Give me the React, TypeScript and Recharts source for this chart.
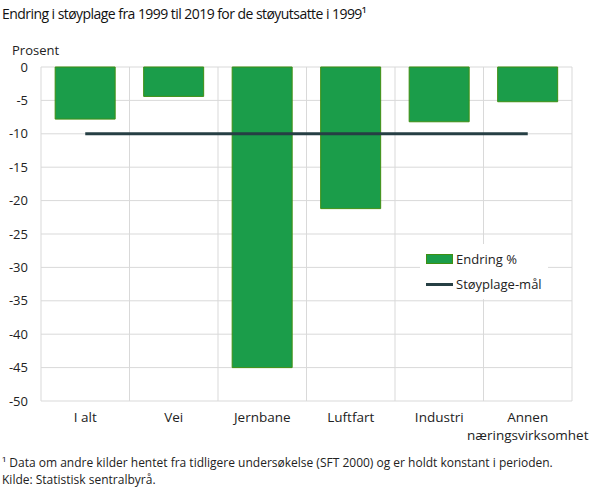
import {
  ComposedChart,
  Bar,
  Line,
  XAxis,
  YAxis,
  CartesianGrid,
  Legend,
} from 'recharts';

const FONT = '"Open Sans", sans-serif';
const TEXT = '#222222';
const GREEN = '#1b9d4a';
const GREEN_EDGE = '#3f8f12';
const LINE = '#263f44';

const categories = ['I alt', 'Vei', 'Jernbane', 'Luftfart', 'Industri', 'Annen\nnæringsvirksomhet'];
const endring = [-7.8, -4.4, -45, -21.2, -8.2, -5.2];
const maal = [-10, -10, -10, -10, -10, -10];
const yTicks = [0, -5, -10, -15, -20, -25, -30, -35, -40, -45, -50];

const data = categories.map((name, i) => ({ name, endring: endring[i], maal: maal[i] }));

function CategoryTick({ x, y, payload }: any) {
  const lines = String(payload.value).split('\n');
  return (
    <text x={x} y={y} textAnchor="middle" fill={TEXT} fontSize={13.5} fontFamily={FONT}>
      {lines.map((l, i) => (
        <tspan key={i} x={x} dy={i === 0 ? '0.71em' : 18}>
          {l}
        </tspan>
      ))}
    </text>
  );
}

function ChartLegend() {
  return (
    <div style={{ background: '#fff', padding: '6px 6px', fontFamily: FONT, fontSize: 13, color: TEXT }}>
      <div style={{ display: 'flex', alignItems: 'center', height: 18 }}>
        <span style={{ width: 25, height: 8, background: GREEN, border: `1px solid ${GREEN_EDGE}`, marginRight: 3 }} />
        Endring %
      </div>
      <div style={{ display: 'flex', alignItems: 'center', height: 18, marginTop: 7 }}>
        <span style={{ width: 27, height: 3, background: LINE, marginRight: 3 }} />
        Støyplage-mål
      </div>
    </div>
  );
}

export default function App() {
  return (
    <div style={{ position: 'absolute', left: 0, top: 0, width: 610, height: 488, background: '#fff', fontFamily: FONT, color: TEXT }}>
      <div style={{ position: 'absolute', left: 2, top: 4, fontSize: 14, letterSpacing: -0.55, color: '#111', whiteSpace: 'nowrap' }}>
        Endring i støyplage fra 1999 til 2019 for de støyutsatte i 1999¹
      </div>
      <div style={{ position: 'absolute', left: 12, top: 41, fontSize: 13 }}>Prosent</div>
      <ComposedChart
        width={610}
        height={488}
        data={data}
        margin={{ top: 67, right: 38, bottom: 57, left: 0 }}
        barCategoryGap="16%"
      >
        <CartesianGrid
          stroke="#d9d9d9"
          verticalCoordinatesGenerator={({ offset }: any) =>
            categories.map((_, i) => offset.left + (i * offset.width) / categories.length).concat(offset.left + offset.width)
          }
        />
        <XAxis dataKey="name" axisLine={false} tickLine={false} tickSize={0} tickMargin={11} interval={0} tick={<CategoryTick />} />
        <YAxis
          domain={[-50, 0]}
          ticks={yTicks}
          width={41}
          axisLine={false}
          tickLine={false}
          tickSize={0}
          tickMargin={13}
          tick={{ fill: TEXT, fontSize: 13, fontFamily: FONT }}
        />
        <Legend
          layout="vertical"
          align="center"
          verticalAlign="middle"
          wrapperStyle={{ left: 420, top: 244, width: 128 }}
          content={<ChartLegend />}
        />
        <Bar dataKey="endring" name="Endring %" fill={GREEN} stroke={GREEN_EDGE} strokeWidth={1} isAnimationActive={false} />
        <Line dataKey="maal" name="Støyplage-mål" stroke={LINE} strokeWidth={3} dot={false} activeDot={false} isAnimationActive={false} />
      </ComposedChart>
      <div style={{ position: 'absolute', left: 2, top: 454, fontSize: 12, lineHeight: '17px', whiteSpace: 'nowrap' }}>
        <div>¹ Data om andre kilder hentet fra tidligere undersøkelse (SFT 2000) og er holdt konstant i perioden.</div>
        <div>Kilde: Statistisk sentralbyrå.</div>
      </div>
    </div>
  );
}
